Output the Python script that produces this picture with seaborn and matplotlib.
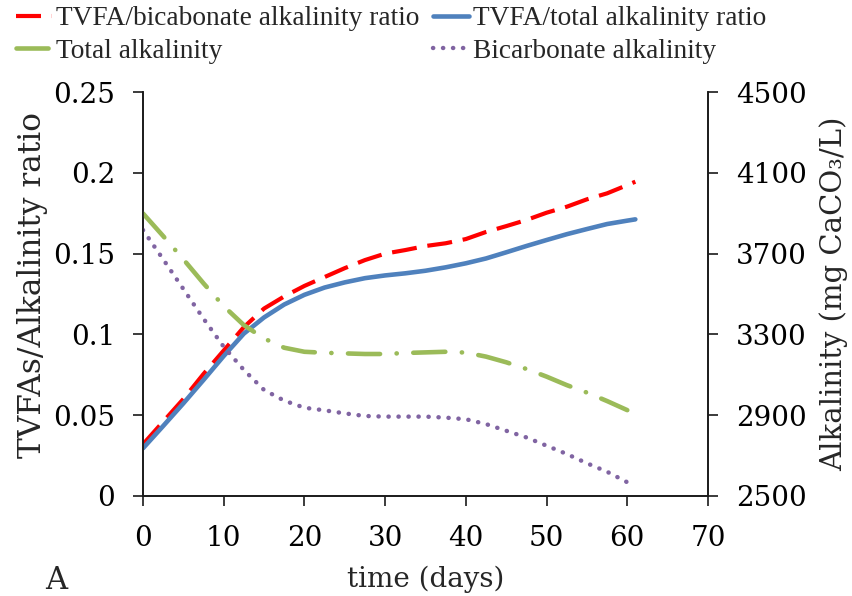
import matplotlib
matplotlib.use("Agg")
import matplotlib.pyplot as plt
import seaborn as sns
import pandas as pd

# ---- data ----
ratio_days = [0, 2.5, 5, 7.5, 10, 12.5, 15, 17.5, 20, 22.5, 25, 27.5, 30,
              32.5, 35, 37.5, 40, 42.5, 45, 47.5, 50, 52.5, 55, 57.5, 60, 61]
tvfa_bicarb_ratio = [0.032, 0.046, 0.060, 0.0755, 0.090, 0.1045, 0.116, 0.1235, 0.130, 0.1355,
                     0.141, 0.146, 0.150, 0.1522, 0.1547, 0.1564, 0.159, 0.1634, 0.167, 0.1708,
                     0.1753, 0.179, 0.1836, 0.1873, 0.1924, 0.1945]
tvfa_total_ratio = [0.0295, 0.0433, 0.0573, 0.0718, 0.0866, 0.1005, 0.1105, 0.1185, 0.1245, 0.129,
                    0.1322, 0.1348, 0.1365, 0.1378, 0.1394, 0.1415, 0.144, 0.147, 0.1508, 0.1547,
                    0.1584, 0.162, 0.1652, 0.1683, 0.1704, 0.1712]

alk_days = [0, 2.5, 5, 7.5, 10, 12.5, 15, 17.5, 20, 22.5, 25, 27.5, 30,
            32.5, 35, 37.5, 40, 42.5, 45, 47.5, 50, 52.5, 55, 57.5, 60]
total_alkalinity = [3899, 3787, 3672, 3553, 3440, 3346, 3280, 3234, 3214, 3209, 3206, 3203, 3203,
                    3208, 3211, 3214, 3210, 3190, 3162, 3129, 3091, 3049, 3012, 2970, 2925]
bicarbonate_alkalinity = [3817, 3672, 3525, 3378, 3239, 3124, 3025, 2972, 2937, 2924, 2909, 2896, 2893,
                          2893, 2893, 2888, 2880, 2856, 2823, 2790, 2749, 2708, 2662, 2620, 2568]

left_ticks = [0, 0.05, 0.1, 0.15, 0.2, 0.25]
left_tick_labels = ["0", "0.05", "0.1", "0.15", "0.2", "0.25"]
right_ticks = [2500, 2900, 3300, 3700, 4100, 4500]
x_ticks = [0, 10, 20, 30, 40, 50, 60, 70]

labels = ["TVFA/bicabonate alkalinity ratio", "TVFA/total alkalinity ratio",
          "Total alkalinity", "Bicarbonate alkalinity"]

ratio_df = pd.DataFrame({"day": ratio_days, "bic": tvfa_bicarb_ratio, "tot": tvfa_total_ratio})
alk_df = pd.DataFrame({"day": alk_days, "tot": total_alkalinity, "bic": bicarbonate_alkalinity})

# ---- style ----
sns.set_theme(style="white")
plt.rcParams["font.family"] = ["DejaVu Serif"]

RED = "#FF0000"
BLUE = "#4F81BD"
GREEN = "#9BBB59"
PURPLE = "#8064A2"
AX_COL = "#1a1a1a"
TICK_FS = 20

fig = plt.figure(figsize=(8.53, 5.96), dpi=100)
ax = fig.add_axes([0.1676, 0.1678, 0.830 - 0.1676, 0.8456 - 0.1678])
ax2 = ax.twinx()

sns.lineplot(data=ratio_df, x="day", y="bic", ax=ax, color=RED, lw=3.0,
             linestyle=(0, (6.0, 2.6)), dash_capstyle="butt")
red_line = ax.get_lines()[-1]
sns.lineplot(data=ratio_df, x="day", y="tot", ax=ax, color=BLUE, lw=3.3,
             solid_capstyle="round", solid_joinstyle="round")
blue_line = ax.get_lines()[-1]

sns.lineplot(data=alk_df, x="day", y="tot", ax=ax2, color=GREEN, lw=3.3,
             linestyle=(0, (7.0, 3.6, 0.05, 3.6)), dash_capstyle="round")
green_line = ax2.get_lines()[-1]
sns.lineplot(data=alk_df, x="day", y="bic", ax=ax2, color=PURPLE, lw=3.2,
             linestyle=(0, (0.05, 2.2)), dash_capstyle="round")
purple_line = ax2.get_lines()[-1]

ax.set_xlim(0, 70)
ax.set_ylim(0, 0.25)
ax2.set_ylim(2500, 4500)
ax.set_xticks(x_ticks)
ax.set_yticks(left_ticks)
ax.set_yticklabels(left_tick_labels)
ax2.set_yticks(right_ticks)

for a in (ax, ax2):
    a.spines["top"].set_visible(False)
    for s in ("left", "right", "bottom"):
        a.spines[s].set_color(AX_COL)
        a.spines[s].set_linewidth(1.2)
    a.grid(False)

ax.tick_params(axis="both", direction="out", length=7, width=1.2, color=AX_COL,
               labelsize=TICK_FS, labelcolor="black")
ax.tick_params(axis="y", pad=13, left=True)
ax.tick_params(axis="x", pad=14, bottom=True)
ax2.tick_params(axis="y", direction="out", length=7, width=1.2, color=AX_COL,
                labelsize=TICK_FS, labelcolor="black", pad=13, right=True)

ax.set_xlabel("time (days)", fontsize=20, labelpad=10)
ax.set_ylabel("TVFAs/Alkalinity ratio", fontsize=22.5)
ax.yaxis.set_label_coords(-0.168, 0.522)
ax2.set_ylabel("Alkalinity (mg CaCO₃/L)", fontsize=21, labelpad=9)

fig.text(0.066, 0.012, "A", fontsize=22, ha="center", va="baseline")

handles = [red_line, green_line, blue_line, purple_line]
leg_labels = [labels[0], labels[2], labels[1], labels[3]]
fig.legend(handles, leg_labels, loc="upper left", bbox_to_anchor=(0.0, 1.017),
           ncol=2, frameon=False, prop={"family": "Liberation Serif", "size": 19.7},
           handlelength=1.3, handletextpad=0.15, columnspacing=0.5,
           labelspacing=0.27, borderaxespad=0.2)

fig.savefig("out.png", dpi=100, facecolor="white")
